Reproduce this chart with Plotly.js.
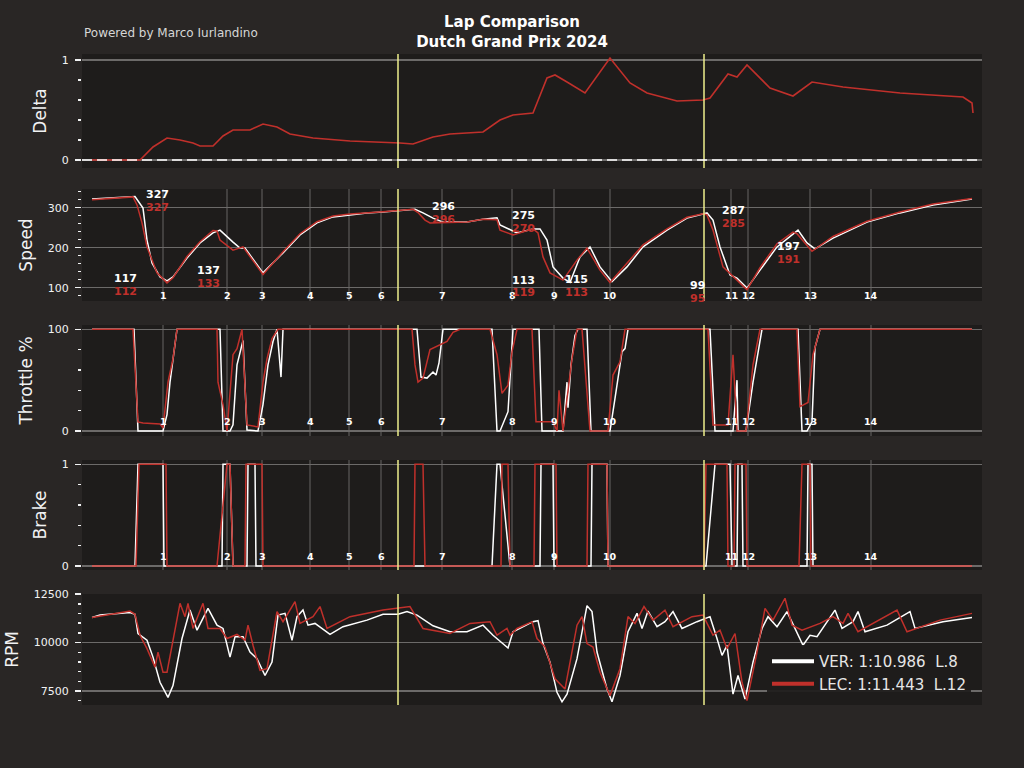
<!DOCTYPE html>
<html><head><meta charset="utf-8">
<script src="https://cdn.plot.ly/plotly-3.0.1.min.js"></script>
<style>html,body{margin:0;padding:0;background:#292625;}#chart{width:1024px;height:768px;}</style>
</head><body><div id="chart"></div>
<script>
// ---------- DATA (distance in metres) ----------
const drivers = ['VER', 'LEC'];
const legendText = ['VER: 1:10.986  L.8', 'LEC: 1:11.443  L.12'];

const cornerNumbers = ['1','2','3','4','5','6','7','8','9','10','11','12','13','14'];
const cornerDist = [405, 725, 900, 1140, 1335, 1495, 1800, 2150, 2360, 2640, 3245, 3330, 3640, 3945];
const sectorDist = [1580, 3110];

const deltaLec = [[50,0],[290,0],[355,0.13],[425,0.22],[490,0.20],[555,0.17],[590,0.14],[655,0.14],[705,0.24],[755,0.30],[840,0.30],[905,0.36],[975,0.33],[1040,0.26],[1155,0.22],[1340,0.19],[1590,0.17],[1655,0.16],[1755,0.23],[1840,0.26],[2005,0.28],[2090,0.40],[2155,0.45],[2255,0.47],[2325,0.82],[2365,0.85],[2425,0.78],[2515,0.67],[2640,1.02],[2740,0.77],[2825,0.67],[2975,0.59],[3105,0.60],[3140,0.62],[3230,0.86],[3275,0.83],[3325,0.95],[3380,0.84],[3440,0.72],[3555,0.64],[3650,0.78],[3805,0.73],[4090,0.67],[4405,0.63],[4450,0.57],[4455,0.47]];

const verSpeed = [[50,322],[150,325],[265,328],[305,299],[325,219],[350,162],[390,127],[425,117],[455,127],[525,174],[590,212],[655,237],[690,244],[755,214],[790,199],[815,199],[905,137],[1005,187],[1090,232],[1175,262],[1255,277],[1340,282],[1425,287],[1505,289],[1580,292],[1665,296],[1705,287],[1755,274],[1805,264],[1925,264],[2005,271],[2075,275],[2090,257],[2175,237],[2255,247],[2290,247],[2325,219],[2355,152],[2405,124],[2440,113],[2490,177],[2540,202],[2590,152],[2650,115],[2725,152],[2805,202],[2925,244],[3025,274],[3125,287],[3155,269],[3190,202],[3240,132],[3275,124],[3325,99],[3390,144],[3475,202],[3580,244],[3625,212],[3665,197],[3755,224],[3925,264],[4090,287],[4255,307],[4450,322]];
const lecSpeed = [[50,320],[150,323],[255,327],[275,307],[300,262],[325,202],[375,137],[425,112],[455,125],[525,178],[590,215],[655,243],[675,242],[690,219],[755,194],[805,202],[905,133],[1005,190],[1090,235],[1175,265],[1255,279],[1340,284],[1425,288],[1505,290],[1580,293],[1655,296],[1680,288],[1715,269],[1740,262],[1925,264],[2005,271],[2075,270],[2090,244],[2155,232],[2255,247],[2280,237],[2305,177],[2340,137],[2405,119],[2475,169],[2525,199],[2590,144],[2640,113],[2715,155],[2805,207],[2925,247],[3025,276],[3105,285],[3125,282],[3155,244],[3205,152],[3275,119],[3325,95],[3390,150],[3475,210],[3555,239],[3575,235],[3650,191],[3755,228],[3925,266],[4090,289],[4255,309],[4450,323]];

const verThrottle = [[50,100],[260,100],[280,0],[405,0],[425,16],[440,48],[475,100],[690,100],[705,0],[740,0],[755,6],[775,65],[805,89],[825,1],[880,0],[905,26],[930,65],[955,88],[975,100],[995,53],[1005,100],[1675,100],[1695,53],[1725,52],[1755,58],[1770,55],[1785,67],[1805,100],[2050,100],[2075,0],[2090,0],[2130,19],[2155,100],[2285,100],[2300,0],[2405,0],[2425,48],[2430,23],[2445,65],[2465,94],[2480,100],[2525,100],[2545,0],[2640,0],[2665,32],[2700,78],[2715,81],[2730,100],[3140,100],[3165,0],[3255,0],[3275,50],[3280,0],[3320,0],[3355,48],[3380,75],[3400,100],[3580,100],[3600,0],[3625,0],[3650,9],[3665,82],[3690,100],[4450,100]];
const lecThrottle = [[50,100],[255,100],[280,9],[305,8],[390,7],[405,3],[430,48],[455,71],[475,100],[675,100],[680,48],[705,26],[725,0],[740,38],[755,75],[775,81],[800,100],[825,6],[850,5],[880,4],[905,48],[925,71],[950,91],[980,100],[1650,100],[1665,65],[1680,48],[1705,52],[1740,80],[1790,85],[1825,88],[1855,97],[1890,100],[2040,100],[2075,75],[2100,37],[2130,45],[2150,78],[2175,100],[2250,100],[2270,9],[2305,9],[2355,9],[2375,0],[2385,40],[2405,0],[2425,32],[2450,71],[2475,100],[2500,100],[2540,0],[2630,0],[2655,55],[2690,68],[2715,100],[3130,100],[3155,6],[3230,6],[3255,75],[3275,0],[3320,0],[3355,65],[3390,100],[3575,100],[3590,24],[3630,28],[3655,75],[3690,100],[4450,100]];

const verBrake = [[50,0],[265,0],[280,1],[405,1],[410,0],[680,0],[700,0],[705,1],[740,1],[755,0],[825,0],[830,1],[865,1],[870,0],[2050,0],[2075,1],[2090,1],[2140,0],[2290,0],[2295,1],[2355,1],[2360,0],[2545,0],[2550,1],[2625,1],[2630,0],[3120,0],[3165,1],[3240,1],[3250,0],[3275,0],[3280,1],[3300,1],[3305,0],[3625,0],[3630,1],[3650,1],[3655,0],[4450,0]];
const lecBrake = [[50,0],[270,0],[285,1],[420,1],[425,0],[675,0],[725,1],[740,1],[755,0],[815,0],[820,1],[900,1],[905,0],[1660,0],[1665,1],[1705,1],[1715,0],[2095,0],[2100,1],[2130,1],[2140,0],[2260,0],[2265,1],[2370,1],[2375,0],[2525,0],[2530,1],[2625,1],[2630,0],[3110,0],[3120,1],[3225,1],[3230,0],[3260,0],[3265,1],[3320,1],[3325,0],[3585,0],[3600,1],[3640,1],[3645,0],[4450,0]];

const verRpm = [[50,11300],[90,11420],[240,11550],[265,11460],[280,10470],[325,10120],[355,9250],[390,7950],[430,7170],[455,7780],[500,10210],[540,11680],[575,10640],[600,11160],[630,11770],[675,10900],[705,10730],[740,9250],[765,10300],[805,10300],[840,9510],[875,9170],[915,8300],[950,8990],[980,11420],[1015,11510],[1050,10120],[1075,11340],[1105,11680],[1130,10900],[1165,10990],[1240,10420],[1305,10820],[1425,11160],[1505,11460],[1580,11460],[1625,11600],[1675,11420],[1755,10870],[1840,10560],[1925,10560],[2005,10900],[2055,10380],[2130,9720],[2155,10560],[2255,11080],[2280,11130],[2305,9950],[2340,8990],[2375,7430],[2400,6940],[2425,7340],[2475,9170],[2525,11910],[2550,11600],[2575,9510],[2625,7600],[2650,6940],[2690,8300],[2730,10560],[2775,11510],[2800,10730],[2830,11630],[2875,10820],[2915,11080],[2955,11600],[3000,10730],[3075,11080],[3140,11340],[3175,10210],[3200,9340],[3225,9860],[3255,7340],[3280,8300],[3315,7080],[3355,8990],[3400,10730],[3430,11340],[3475,10820],[3525,11600],[3605,9860],[3640,10380],[3675,10300],[3765,11680],[3800,10730],[3855,11080],[3880,11600],[3915,10560],[4025,10900],[4140,11600],[4165,10730],[4305,11080],[4450,11300]];
const lecRpm = [[50,11300],[240,11630],[265,11460],[290,10380],[325,9690],[365,8730],[380,9510],[405,8470],[425,8470],[455,10210],[490,12030],[515,11340],[530,12030],[555,10730],[605,12030],[630,10730],[690,10730],[725,10210],[775,10420],[815,10120],[830,10900],[855,9860],[890,8560],[925,8650],[975,11600],[1005,11080],[1065,12120],[1090,10990],[1155,11340],[1190,11860],[1225,10730],[1340,11340],[1505,11680],[1640,11860],[1705,10730],[1840,10470],[1940,10990],[2040,11080],[2075,10380],[2125,10730],[2140,10380],[2175,10730],[2250,11080],[2275,10210],[2315,9770],[2365,8130],[2415,7600],[2475,10900],[2500,11340],[2525,9950],[2555,9770],[2590,8470],[2640,7260],[2690,8650],[2730,11340],[2765,10990],[2810,11860],[2855,11160],[2915,11680],[2955,10820],[3050,11340],[3105,11420],[3155,10380],[3190,10640],[3225,9690],[3265,10470],[3300,7950],[3325,7000],[3375,9510],[3415,11770],[3455,11160],[3515,12290],[3550,10900],[3600,10640],[3690,10990],[3755,11340],[3805,10990],[3830,11510],[3880,10560],[4075,11680],[4125,10560],[4290,11160],[4450,11510]];

// speed labels (max/min per corner): VER value / LEC value
const speedLabelDist = [215, 375, 630, 1805, 2205, 2205, 2470, 3075, 3255, 3530];
const speedLabelVer = [117, 327, 137, 296, 275, 113, 115, 99, 287, 197];
const speedLabelLec = [112, 327, 133, 296, 270, 119, 113, 95, 285, 191];

// ---------- STYLE ----------
const FONT = 'DejaVu Sans, Liberation Sans, sans-serif';
const TXT = '#f1f2f3';
const VER_C = '#ffffff';
const LEC_C = '#c0302b';
const xs = a => a.map(p => p[0]);
const ys = a => a.map(p => p[1]);

function line(data, color, xa, ya, w) {
  return {type:'scatter', mode:'lines', x: xs(data), y: ys(data), xaxis: xa, yaxis: ya,
          line:{color: color, width: w || 1.5}, showlegend:false, hoverinfo:'skip'};
}

const traces = [
  line(deltaLec, LEC_C, 'x', 'y', 1.6),
  line(verSpeed, VER_C, 'x2', 'y2'), line(lecSpeed, LEC_C, 'x2', 'y2'),
  line(verThrottle, VER_C, 'x3', 'y3'), line(lecThrottle, LEC_C, 'x3', 'y3'),
  line(verBrake, VER_C, 'x4', 'y4'), line(lecBrake, LEC_C, 'x4', 'y4'),
  line(verRpm, VER_C, 'x5', 'y5'), line(lecRpm, LEC_C, 'x5', 'y5'),
  {type:'scatter', mode:'lines', x:[null], y:[null], xaxis:'x5', yaxis:'y5', name: legendText[0], line:{color:VER_C, width:4}, showlegend:true},
  {type:'scatter', mode:'lines', x:[null], y:[null], xaxis:'x5', yaxis:'y5', name: legendText[1], line:{color:LEC_C, width:4}, showlegend:true}
];

function xax(anchor) {
  return {domain:[0,1], range:[0,4500], anchor: anchor, showticklabels:false, ticks:'', showgrid:false,
          zeroline:false, showline:false, fixedrange:true};
}
function yax(domain, range, tickvals, minorDtick, title, anchor) {
  return {domain: domain, range: range, anchor: anchor, tickmode:'array', tickvals: tickvals,
          ticktext: tickvals.map(String), ticks:'outside', ticklen:6, tickwidth:1.5, tickcolor: TXT,
          ticklabelstandoff: 4,
          tickfont:{family: FONT, size:11, color: TXT}, showgrid:true, gridcolor:'#6c6a69', gridwidth:1.5,
          zeroline:false, showline:false, fixedrange:true,
          minor:{ticks:'outside', ticklen:3, tickwidth:1.5, tickcolor: TXT, tickmode:'linear', tick0:0, dtick: minorDtick, showgrid:false},
          title:{text: title, font:{family: FONT, size:17, color: TXT}, standoff: 10}};
}

const H = 768;
const dom = (bot, top) => [1 - bot / H, 1 - top / H];

const shapes = [];
const annotations = [];
// corner lines + numbers (speed, throttle, brake)
const cornerPanels = [['x2','y2',0.045],['x3','y3',0.13],['x4','y4',0.12]];
cornerPanels.forEach(([xa, ya, yl]) => {
  cornerDist.forEach((d, i) => {
    shapes.push({type:'line', xref: xa, yref: ya + ' domain', x0: d, x1: d, y0: 0, y1: 1, layer:'below',
                 line:{color:'rgba(210,210,210,0.4)', width:1}});
    annotations.push({xref: xa, yref: ya + ' domain', x: d, y: yl, text: '<b>' + cornerNumbers[i] + '</b>',
                      showarrow:false, font:{family: FONT, size:9.5, color:'#ffffff'}, xanchor:'center', yanchor:'middle'});
  });
});
// sector lines (all panels)
['y','y2','y3','y4','y5'].forEach((ya, k) => {
  const xa = k === 0 ? 'x' : 'x' + (k + 1);
  sectorDist.forEach(d => {
    shapes.push({type:'line', xref: xa, yref: ya + ' domain', x0: d, x1: d, y0: 0, y1: 1, layer:'above',
                 line:{color:'#eeee8c', width:1.5}});
  });
});
// delta zero dashed line
shapes.push({type:'line', xref:'x domain', yref:'y', x0:0, x1:1, y0:0, y1:0, layer:'above',
             line:{color:'#ffffff', width:1.5, dash:'10px,5px'}});

// speed labels
speedLabelDist.forEach((d, i) => {
  const v = speedLabelVer[i];
  annotations.push({xref:'x2', yref:'y2', x: d, y: v + 6, text:'<b>' + v + '</b>', showarrow:false,
                    font:{family: FONT, size:11, color:'#ffffff'}, xanchor:'center', yanchor:'middle'});
  annotations.push({xref:'x2', yref:'y2', x: d, y: v - 26, text:'<b>' + speedLabelLec[i] + '</b>', showarrow:false,
                    font:{family: FONT, size:11, color: LEC_C}, xanchor:'center', yanchor:'middle'});
});
// credit
annotations.push({xref:'paper', yref:'paper', x:0, y: 1 - 33 / H, xanchor:'left', yanchor:'middle',
                  text:'Powered by Marco Iurlandino', showarrow:false, font:{family: FONT, size:12, color:'#d6d6d6'}});

const layout = {
  width:1024, height:768,
  paper_bgcolor:'#292625', plot_bgcolor:'#1e1c1b',
  margin:{l:82, r:42, t:0, b:0, autoexpand:false},
  font:{family: FONT, color: TXT},
  title:{text:'Lap Comparison<br>Dutch Grand Prix 2024', font:{family: FONT, size:15, color:'#ffffff', weight:'bold'},
         xref:'container', x:0.5, xanchor:'center', yref:'container', y: 1 - 27 / H, yanchor:'top'},
  xaxis: xax('y'), xaxis2: xax('y2'), xaxis3: xax('y3'), xaxis4: xax('y4'), xaxis5: xax('y5'),
  yaxis: yax(dom(168, 54), [-0.08, 1.06], [0, 1], 0.2, 'Delta', 'x'),
  yaxis2: yax(dom(301, 189), [66.75, 346.75], [100, 200, 300], 20, 'Speed', 'x2'),
  yaxis3: yax(dom(436, 325), [-4.9, 104.2], [0, 100], 20, 'Throttle %', 'x3'),
  yaxis4: yax(dom(570, 460), [-0.039, 1.042], [0, 1], 0.2, 'Brake', 'x4'),
  yaxis5: yax(dom(705, 594), [6776, 12510], [7500, 10000, 12500], 500, 'RPM', 'x5'),
  showlegend:true,
  legend:{x:(767 - 82) / 900, xanchor:'left', y: 1 - 645 / H, yanchor:'top', bgcolor:'rgba(30,28,27,0.92)',
          borderwidth:0, font:{family: FONT, size:15, color:'#e6e6e6'}, itemwidth:42, traceorder:'normal'},
  shapes: shapes, annotations: annotations,
  hovermode:false
};

Plotly.newPlot('chart', traces, layout, {staticPlot:true, displayModeBar:false});
</script></body></html>
